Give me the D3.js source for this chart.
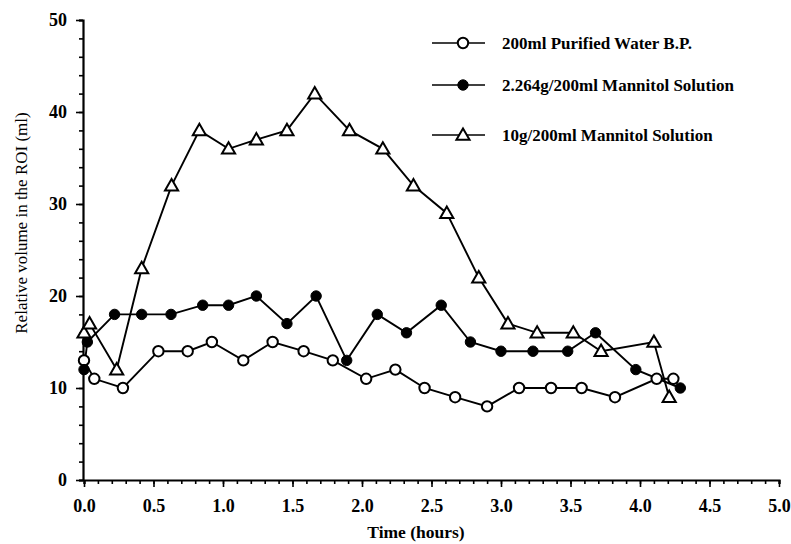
<!DOCTYPE html>
<html><head><meta charset="utf-8">
<script src="https://cdn.jsdelivr.net/npm/d3@7"></script>
<style>body{margin:0;background:#fff}</style>
</head><body>
<svg id="c" width="791" height="544"></svg>
<script>
const waterX = [0, 0.074, 0.28, 0.535, 0.746, 0.92, 1.146, 1.357, 1.58, 1.79, 2.03, 2.24, 2.45, 2.67, 2.90, 3.13, 3.36, 3.58, 3.82, 4.12, 4.24];
const waterY = [13, 11, 10, 14, 14, 15, 13, 15, 14, 13, 11, 12, 10, 9, 8, 10, 10, 10, 9, 11, 11];
const lowX = [0, 0.024, 0.22, 0.415, 0.626, 0.854, 1.04, 1.24, 1.46, 1.67, 1.89, 2.11, 2.32, 2.57, 2.78, 3.0, 3.23, 3.48, 3.68, 3.97, 4.29];
const lowY = [12, 15, 18, 18, 18, 19, 19, 20, 17, 20, 13, 18, 16, 19, 15, 14, 14, 14, 16, 12, 10];
const highX = [0, 0.04, 0.235, 0.415, 0.63, 0.83, 1.04, 1.24, 1.46, 1.66, 1.91, 2.15, 2.37, 2.61, 2.84, 3.05, 3.26, 3.52, 3.72, 4.10, 4.21];
const highY = [16, 17, 12, 23, 32, 38, 36, 37, 38, 42, 38, 36, 32, 29, 22, 17, 16, 16, 14, 15, 9];
const seriesNames = ["200ml Purified Water B.P.", "2.264g/200ml Mannitol Solution", "10g/200ml Mannitol Solution"];
const xTicks = [0, 0.5, 1, 1.5, 2, 2.5, 3, 3.5, 4, 4.5, 5];
const yTicks = [0, 10, 20, 30, 40, 50];
const xTitle = "Time (hours)";
const yTitle = "Relative volume in the ROI (ml)";

const svg = d3.select("#c");
const font = "'Liberation Serif', 'Times New Roman', serif";
const x = d3.scaleLinear().domain([0, 5]).range([84, 779]);
const y = d3.scaleLinear().domain([0, 50]).range([480, 20]);

// axes
const gx = svg.append("g").attr("transform", "translate(0,480)");
gx.call(d3.axisBottom(x).tickValues(d3.range(0, 5.001, 0.1)).tickSize(4).tickFormat(""));
gx.append("g").call(d3.axisBottom(x).tickValues(xTicks).tickSize(7).tickPadding(12).tickFormat(d3.format(".1f")));
const gy = svg.append("g").attr("transform", "translate(83,0)");
gy.call(d3.axisLeft(y).tickValues(d3.range(0, 50.001, 2)).tickSize(4).tickFormat(""));
gy.append("g").call(d3.axisLeft(y).tickValues(yTicks).tickSize(7).tickPadding(9).tickFormat(d3.format("d")));
svg.selectAll(".domain").attr("stroke", "#000").attr("stroke-width", 2.2);
svg.selectAll(".tick line").attr("stroke", "#000").attr("stroke-width", 1.6);
svg.selectAll(".tick text").attr("font-family", font).attr("font-size", 18).attr("font-weight", "bold").attr("fill", "#000");
svg.selectAll(".domain").filter(function(){return this.parentNode.parentNode.tagName==='g' && this.parentNode.parentNode!==svg.node();}).remove();

svg.append("text").attr("x", 416).attr("y", 538).attr("text-anchor", "middle")
  .attr("font-family", font).attr("font-size", 17.5).attr("font-weight", "bold").text(xTitle);
svg.append("text").attr("transform", "translate(27,223) rotate(-90)").attr("text-anchor", "middle")
  .attr("font-family", font).attr("font-size", 17).text(yTitle);

const series = [
  {xs: waterX, ys: waterY, m: "open"},
  {xs: lowX, ys: lowY, m: "filled"},
  {xs: highX, ys: highY, m: "tri"}
];
const line = d3.line().x(d => x(d[0])).y(d => y(d[1]));
const tri = d3.symbol().type(d3.symbolTriangle).size(75);

function marker(g, m, cx, cy) {
  if (m === "tri") {
    g.append("path").attr("d", tri()).attr("transform", `translate(${cx},${cy+1})`)
      .attr("fill", "#fff").attr("stroke", "#000").attr("stroke-width", 2);
  } else {
    g.append("circle").attr("cx", cx).attr("cy", cy).attr("r", 5.2)
      .attr("fill", m === "open" ? "#fff" : "#000").attr("stroke", "#000").attr("stroke-width", m === "open" ? 2 : 1);
  }
}

series.forEach(s => {
  const pts = s.xs.map((v, i) => [v, s.ys[i]]);
  svg.append("path").datum(pts).attr("d", line).attr("fill", "none").attr("stroke", "#000").attr("stroke-width", 1.9);
});
series.forEach(s => {
  const g = svg.append("g");
  s.xs.forEach((v, i) => marker(g, s.m, x(v), y(s.ys[i])));
});

// legend
const legY = [43, 85, 135];
series.forEach((s, i) => {
  const g = svg.append("g");
  g.append("line").attr("x1", 432).attr("x2", 485).attr("y1", legY[i]).attr("y2", legY[i]).attr("stroke", "#000").attr("stroke-width", 1.6);
  marker(g, s.m, 463, legY[i]);
  g.append("text").attr("x", 502).attr("y", legY[i] + 5.5).attr("font-family", font).attr("font-size", 17)
    .attr("font-weight", "bold").text(seriesNames[i]);
});
</script>
</body></html>
